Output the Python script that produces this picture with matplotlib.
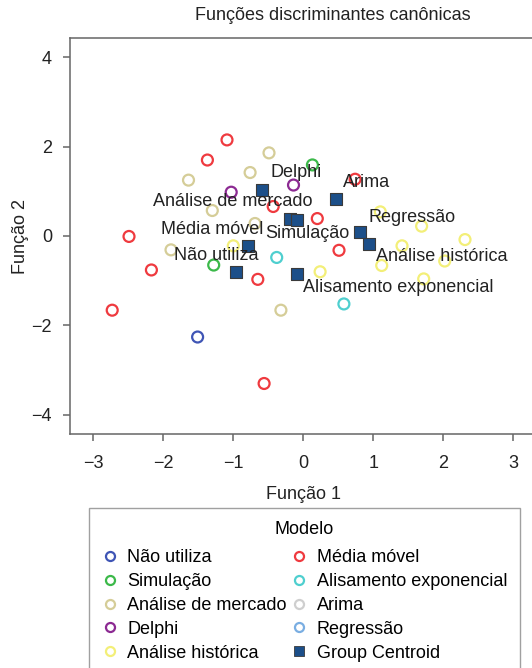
import matplotlib
matplotlib.use("Agg")
import matplotlib.pyplot as plt
from matplotlib.lines import Line2D

plt.rcParams['font.family'] = ['Liberation Sans', 'DejaVu Sans']
plt.rcParams['axes.unicode_minus'] = True

# grupos e cores
grupos = ['Não utiliza', 'Simulação', 'Análise de mercado', 'Delphi',
          'Análise histórica', 'Média móvel', 'Alisamento exponencial',
          'Arima', 'Regressão']
cores = ['#3f55b5', '#3cb94a', '#d5cd98', '#8c2a92', '#f3ef78',
         '#ef3a3f', '#4fcfcf', '#cfcfcf', '#7aaee2']

# casos (função 1, função 2) por grupo
f1 = {
    'Não utiliza': [-1.51],
    'Simulação': [0.13, -1.28],
    'Análise de mercado': [-0.49, -0.76, -1.64, -1.30, -0.69, -1.89, -0.32],
    'Delphi': [-1.03, -0.14],
    'Análise histórica': [1.10, 1.69, 1.41, 2.31, 1.12, 2.02, -1.00, 0.24, 1.72],
    'Média móvel': [-1.09, -1.37, 0.74, -0.43, 0.20, -2.49, 0.51, -2.17,
                    -0.65, -2.73, -0.56],
    'Alisamento exponencial': [-0.38, 0.58],
    'Arima': [],
    'Regressão': [],
}
f2 = {
    'Não utiliza': [-2.26],
    'Simulação': [1.59, -0.65],
    'Análise de mercado': [1.86, 1.42, 1.25, 0.57, 0.28, -0.31, -1.66],
    'Delphi': [0.98, 1.14],
    'Análise histórica': [0.54, 0.22, -0.22, -0.08, -0.66, -0.56, -0.22, -0.80, -0.96],
    'Média móvel': [2.15, 1.70, 1.27, 0.66, 0.39, -0.01, -0.32, -0.76,
                    -0.97, -1.66, -3.30],
    'Alisamento exponencial': [-0.48, -1.52],
    'Arima': [],
    'Regressão': [],
}

# centroides dos grupos
cent_nomes = ['Delphi', 'Análise de mercado', 'Simulação', 'Arima', 'Regressão',
              'Análise histórica', 'Média móvel', 'Não utiliza',
              'Alisamento exponencial']
cent_f1 = [-0.59, -0.19, -0.09, 0.47, 0.81, 0.94, -0.79, -0.96, -0.09]
cent_f2 = [1.04, 0.37, 0.36, 0.83, 0.10, -0.19, -0.22, -0.80, -0.85]
# deslocamento dos rótulos (pontos)
rot_dx = [5.8, -99, -23, 5, 6, 5, -63, -45, 4.3]
rot_dy = [12, 12.6, -10, 11.5, 10, -8.6, 12, 11.5, -10]

fig = plt.figure(figsize=(5.32, 6.68), dpi=100)
ax = fig.add_axes([70 / 532, 1 - 434 / 668, 466.4 / 532, 396 / 668])

for g, c in zip(grupos, cores):
    ax.scatter(f1[g], f2[g], s=62, facecolors='none', edgecolors=c,
               linewidths=1.6, zorder=2)

ax.scatter(cent_f1, cent_f2, s=78, marker='s', c='#1c4f89',
           edgecolors='#3a3a3a', linewidths=0.8, zorder=3)
for nome, x, y, dx, dy in zip(cent_nomes, cent_f1, cent_f2, rot_dx, rot_dy):
    ax.annotate(nome, (x, y), xytext=(dx, dy), textcoords='offset points',
                fontsize=13, color='#222222', va='center', ha='left', zorder=4)

ax.set_xlim(-3.333, 3.33)
ax.set_ylim(-4.43, 4.43)
ax.set_xticks([-3, -2, -1, 0, 1, 2, 3])
ax.set_yticks([-4, -2, 0, 2, 4])
for s in ax.spines.values():
    s.set_color('#666666')
    s.set_linewidth(1.1)
ax.tick_params(colors='#666666', labelcolor='#222222', labelsize=13,
               length=5, width=1.1, direction='out')
ax.tick_params(axis='x', pad=10)
ax.tick_params(axis='y', pad=8)
ax.set_xlabel('Função 1', fontsize=13, color='#222222', labelpad=10)
ax.set_ylabel('Função 2', fontsize=13, color='#222222', labelpad=2)
fig.text(333 / 532, 1 - 16 / 668, 'Funções discriminantes canônicas',
         fontsize=13, color='#222222', ha='center', va='center')

handles = [Line2D([], [], ls='none', marker='o', markersize=6.5,
                  markerfacecolor='none', markeredgecolor=c,
                  markeredgewidth=1.6) for c in cores]
handles.append(Line2D([], [], ls='none', marker='s', markersize=7,
                      markerfacecolor='#1c4f89', markeredgecolor='#3a3a3a',
                      markeredgewidth=0.6))
labels = grupos + ['Group Centroid']
leg = fig.legend(handles, labels, ncol=2, title='Modelo', fontsize=13,
                 title_fontsize=13, loc='upper center',
                 bbox_to_anchor=(304.5 / 532, 1 - 508 / 668),
                 borderaxespad=0,
                 frameon=True, fancybox=False, edgecolor='#888888',
                 handlelength=0.9, handletextpad=0.5, columnspacing=0.25,
                 labelspacing=0.38, borderpad=0.73)
leg.get_frame().set_linewidth(1.0)
leg._legend_box.sep += 3

fig.savefig('out.png', dpi=100)
